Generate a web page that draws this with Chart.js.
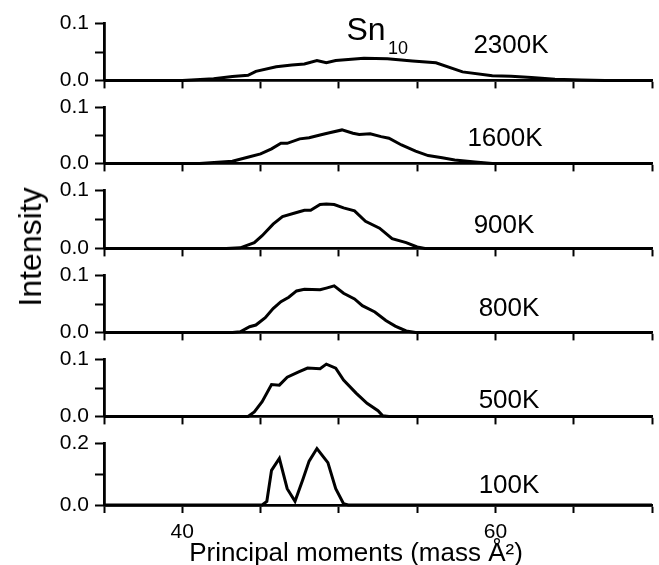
<!DOCTYPE html>
<html lang="en">
<head>
  <meta charset="UTF-8" />
  <title>Sn10 principal moments</title>
  <style>
    body {
      margin: 0;
      background: #fff;
      font-family: "Liberation Sans", Arial, sans-serif;
      color: #000;
    }
    #wrap {
      position: relative;
      width: 659px;
      height: 565px;
      overflow: hidden;
    }
    canvas { position: absolute; left: 0; }
    .lbl {
      position: absolute;
      line-height: 1;
      white-space: nowrap;
      transform: translate(-50%, -50%);
    }
  </style>
</head>
<body>
  <div id="wrap"></div>

  <script src="https://cdn.jsdelivr.net/npm/chart.js"></script>
  <script>
    // temperatures, top panel first
    const temps = ['2300K', '1600K', '900K', '800K', '500K', '100K'];
    const yMaxes = [0.1, 0.1, 0.1, 0.1, 0.1, 0.2];

    // principal moments (mass Å^2) and intensity per temperature
    const m2300 = [35, 40, 42, 43.2, 44.2, 44.7, 46, 47, 47.8, 48.6, 49.2, 49.8, 51.6, 53.1, 54.7, 56.2, 57.9, 59.8, 61, 62.3, 63.8, 65.5, 67, 70];
    const i2300 = [0, 0, 0.003, 0.007, 0.009, 0.016, 0.024, 0.027, 0.029, 0.035, 0.031, 0.035, 0.039, 0.038, 0.034, 0.031, 0.015, 0.008, 0.0072, 0.005, 0.002, 0.0008, 0, 0];

    const m1600 = [35, 41.1, 43.2, 44.3, 45, 45.7, 46.3, 46.7, 47.5, 48.1, 48.8, 49.4, 50.2, 50.9, 51.3, 52, 52.7, 53.2, 54, 54.9, 55.7, 56.6, 57.4, 58.7, 59.8, 70];
    const i1600 = [0, 0, 0.004, 0.012, 0.017, 0.026, 0.036, 0.036, 0.044, 0.046, 0.051, 0.055, 0.06, 0.054, 0.052, 0.053, 0.048, 0.045, 0.033, 0.022, 0.014, 0.010, 0.006, 0.0026, 0, 0];

    const m900 = [35, 42.8, 43.7, 44.6, 45.1, 45.8, 46.4, 47.3, 47.8, 48.2, 48.8, 49.2, 49.7, 50.3, 51, 51.7, 52.6, 53.4, 54.3, 55, 55.5, 70];
    const i900 = [0, 0, 0.001, 0.010, 0.022, 0.042, 0.055, 0.062, 0.066, 0.066, 0.076, 0.077, 0.076, 0.070, 0.065, 0.047, 0.035, 0.017, 0.010, 0.0025, 0, 0];

    const m800 = [35, 43.2, 43.7, 44.3, 44.7, 45.3, 45.8, 46.3, 46.8, 47.3, 47.8, 48.8, 49.2, 49.7, 50.3, 51, 51.5, 52.3, 53, 53.6, 54.3, 54.9, 70];
    const i800 = [0, 0, 0.001, 0.010, 0.013, 0.026, 0.042, 0.054, 0.062, 0.073, 0.076, 0.075, 0.078, 0.082, 0.069, 0.059, 0.047, 0.036, 0.021, 0.011, 0.0025, 0, 0];

    const m500 = [35, 44.2, 44.6, 45.1, 45.7, 46.2, 46.7, 47.4, 48, 48.8, 49.2, 49.8, 50.3, 51.1, 51.8, 52.5, 52.8, 53.2, 70];
    const i500 = [0, 0, 0.008, 0.026, 0.056, 0.055, 0.069, 0.078, 0.085, 0.084, 0.092, 0.085, 0.064, 0.041, 0.023, 0.010, 0.001, 0, 0];

    const m100 = [35, 45.1, 45.4, 45.7, 46.2, 46.7, 47.2, 47.7, 48.1, 48.6, 49.3, 49.8, 50.3, 50.6, 70];
    const i100 = [0, 0, 0.012, 0.113, 0.152, 0.053, 0.012, 0.083, 0.143, 0.184, 0.138, 0.053, 0.004, 0, 0];

    const moments = [m2300, m1600, m900, m800, m500, m100];
    const intensities = [i2300, i1600, i900, i800, i500, i100];

    // pixel layout of each panel: y of the top tick and of the zero line
    const panelTop = [19, 103, 186, 271, 355, 439];
    const panelZero = [85, 168, 253, 337, 421, 505];
    const padTop = 14;
    const FONT = '"Liberation Sans", Arial, sans-serif';

    const wrap = document.getElementById('wrap');

    function addLabel(text, x, y, size, extra) {
      const d = document.createElement('div');
      d.className = 'lbl';
      d.innerHTML = text;
      d.style.left = x + 'px';
      d.style.top = y + 'px';
      d.style.fontSize = size + 'px';
      if (extra) d.style.transform = extra;
      wrap.appendChild(d);
    }

    temps.forEach((t, k) => {
      const last = k === temps.length - 1;
      const xH = last ? 40 : 14;
      const h = panelZero[k] - panelTop[k];
      const cv = document.createElement('canvas');
      cv.width = 659;
      cv.height = padTop + h + xH;
      cv.style.top = (panelTop[k] - padTop) + 'px';
      wrap.appendChild(cv);

      const ymax = yMaxes[k];
      const pts = moments[k].map((x, i) => ({ x: x, y: intensities[k][i] }));

      new Chart(cv.getContext('2d'), {
        type: 'line',
        data: {
          datasets: [{
            data: pts,
            borderColor: '#000',
            borderWidth: 3,
            pointRadius: 0,
            tension: 0,
            clip: false
          }]
        },
        options: {
          responsive: false,
          animation: false,
          events: [],
          layout: { padding: { top: padTop, right: 5, left: 0, bottom: 0 } },
          plugins: { legend: { display: false }, tooltip: { enabled: false } },
          scales: {
            x: {
              type: 'linear',
              min: 35,
              max: 70,
              ticks: {
                stepSize: 5,
                autoSkip: false,
                maxRotation: 0,
                color: '#000',
                padding: 7,
                font: { family: FONT, size: 21 },
                callback: v => (last && (v === 40 || v === 60)) ? String(v) : ''
              },
              grid: { drawOnChartArea: false, drawTicks: true, tickLength: 8, tickWidth: 2, tickColor: '#000' },
              border: { display: true, color: '#000', width: 2.8 },
              afterFit: s => { s.height = xH; }
            },
            y: {
              min: 0,
              max: ymax,
              ticks: {
                stepSize: ymax / 2,
                color: '#000',
                padding: 6,
                font: { family: FONT, size: 21 },
                callback: v => (Math.abs(v) < 1e-9 || Math.abs(v - ymax) < 1e-9) ? v.toFixed(1) : ''
              },
              grid: { drawOnChartArea: false, drawTicks: true, tickLength: 9, tickWidth: 2, tickColor: '#000' },
              border: { display: true, color: '#000', width: 2.8 },
              afterFit: s => { s.width = 104; }
            }
          }
        }
      });
    });

    // annotations
    const tempPos = [[511, 44], [505, 137], [504, 224], [509, 307], [509, 399], [509, 484]];
    temps.forEach((t, k) => addLabel(t, tempPos[k][0], tempPos[k][1], 26));
    addLabel('Sn', 366, 29, 32);
    addLabel('10', 398, 48, 18);
    addLabel('Intensity', 30, 247, 32, 'translate(-50%, -50%) rotate(-90deg)');
    addLabel('Principal moments (mass Å²)', 356, 552, 26);
  </script>
</body>
</html>
